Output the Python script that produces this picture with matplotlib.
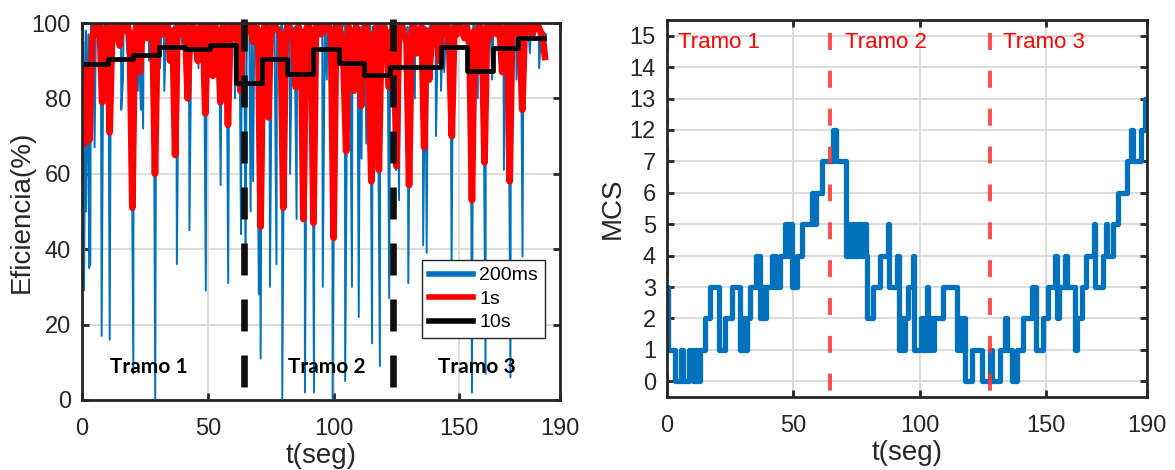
import numpy as np
import matplotlib
matplotlib.use("Agg")
import matplotlib.pyplot as plt
from matplotlib.lines import Line2D

plt.rcParams["font.family"] = ["Liberation Sans", "DejaVu Sans"]

# ---- left plot data: efficiency (%) ----
# 1 s averages
red_1s = [
    70, 68, 88, 69, 96, 99, 97, 100, 79, 97,
    99, 71, 98, 100, 97, 94, 100, 98, 100, 96,
    51, 97, 100, 87, 98, 100, 96, 99, 100, 60,
    98, 100, 97, 99, 100, 90, 98, 65, 99, 100,
    97, 99, 80, 98, 100, 96, 90, 99, 100, 76,
    98, 100, 86, 99, 97, 79, 100, 98, 73, 99,
    100, 96, 99, 82, 97, 100, 98, 99, 95, 100,
    97, 46, 98, 100, 75, 97, 100, 99, 98, 96,
    51, 97, 100, 98, 95, 83, 99, 97, 48, 98,
    100, 96, 47, 99, 100, 97, 99, 98, 100, 96,
    43, 98, 100, 97, 88, 66, 99, 97, 82, 99,
    96, 78, 98, 100, 88, 58, 97, 99, 61, 98,
    100, 95, 83, 98, 97, 62, 99, 100, 97, 95,
    57, 98, 100, 92, 97, 99, 67, 98, 85, 97,
    100, 96, 90, 99, 97, 100, 93, 70, 99, 97,
    100, 98, 96, 99, 94, 53, 98, 87, 100, 97,
    63, 99, 96, 100, 98, 97, 99, 87, 98, 100,
    58, 99, 97, 100, 96, 77, 99, 98, 100, 97,
    99, 100, 98, 97, 91,
]

# 200 ms samples: upper band (one per second, at t = k + 0.5)
blue_top = [
    95, 98, 97, 100, 99, 97, 100, 98, 99, 100,
    97, 99, 100, 98, 96, 100, 99, 98, 100, 97,
    99, 100, 96, 98, 100, 99, 97, 100, 98, 99,
    100, 97, 99, 98, 100, 96, 99, 100, 98, 97,
    100, 99, 97, 100, 98, 99, 100, 96, 99, 98,
    100, 97, 99, 100, 98, 95, 99, 100, 97, 99,
    98, 100, 96, 99, 93, 97, 100, 98, 99, 100,
    97, 99, 98, 100, 96, 99, 100, 97, 98, 100,
    99, 97, 100, 98, 99, 96, 100, 98, 97, 99,
    100, 98, 99, 96, 100, 97, 99, 100, 98, 99,
    97, 100, 98, 99, 100, 96, 99, 98, 100, 97,
    99, 100, 98, 97, 100, 99, 96, 98, 100, 99,
    97, 98, 100, 96, 99, 94, 97, 100, 98, 99,
    100, 97, 99, 98, 100, 96, 99, 97, 100, 98,
    99, 100, 97, 98, 96, 100, 99, 97, 100, 98,
    99, 96, 100, 98, 97, 100, 99, 98, 100, 97,
    99, 100, 98, 97, 100, 99, 96, 98, 100, 99,
    97, 100, 98, 99, 100, 97, 99, 98, 100, 96,
    99, 100, 98, 92, 97,
]
# 200 ms samples: downward drops
spike_t = [0.8, 1.6, 2.8, 3.3, 5.0, 7.8, 11.0, 15.6, 16.3, 18.0,
           20.4, 22.2, 23.4, 24.3, 26.7, 29.1, 31.0, 32.7, 35.0, 37.7,
           40.0, 42.7, 44.6, 46.3, 49.2, 52.0, 55.1, 58.1, 60.8, 62.7,
           63.2, 65.0, 67.0, 68.0, 70.3, 71.0, 74.7, 77.3, 79.6, 82.7,
           85.3, 88.6, 92.2, 95.7, 97.3, 99.6, 102.0, 104.6, 107.3, 110.0,
           111.1, 113.0, 115.3, 118.4, 122.1, 124.8, 126.0, 129.7, 132.3, 135.6,
           137.0, 140.7, 142.7, 144.0, 146.9, 155.0, 157.3, 160.4, 163.0, 167.7,
           170.3, 172.7, 175.1, 178.0, 181.7]
spike_v = [29, 50, 35, 36, 67, 17, 16, 77, 85, 92,
           7, 82, 77, 72, 90, 0, 88, 82, 90, 36,
           93, 45, 95, 88, 29, 86, 57, 31, 80, 90,
           44, 34, 50, 58, 28, 11, 30, 36, 0, 60,
           48, 2, 2, 30, 85, 0, 90, 5, 30, 22,
           64, 68, 15, 9, 27, 61, 53, 31, 80, 41,
           39, 70, 82, 87, 35, 2, 80, 7, 85, 61,
           6, 85, 38, 92, 88]

# 10 s averages (steps)
black_10s = [89, 90.5, 91.5, 93.7, 93, 94.2, 84.2, 90.4, 86.4, 93,
             89.4, 86.2, 88.3, 88.3, 93.7, 87.3, 93.4, 96]

# ---- right plot data: MCS index (change times and values) ----
mcs_t = [0, 0.5, 3.2, 5.4, 6.2, 8.8, 10.2, 11.4, 12.0, 13.2,
         15.0, 17.0, 20.7, 23.0, 25.6, 29.0, 30.2, 30.6, 31.5, 33.0,
         35.2, 36.2, 36.5, 36.8, 38.0, 38.4, 39.2, 41.4, 42.4, 42.8,
         43.2, 44.7, 46.7, 48.0, 48.3, 49.3, 51.3, 53.3, 57.3, 58.4,
         59.0, 61.2, 65.8, 66.9, 70.8, 71.7, 72.5, 73.4, 74.4, 75.7,
         76.7, 77.6, 78.6, 79.0, 81.7, 84.3, 87.3, 87.9, 91.0, 91.7,
         93.0, 93.4, 94.2, 95.2, 97.2, 97.9, 100.6, 101.2, 102.8, 103.4,
         104.2, 105.0, 105.5, 109.4, 114.6, 115.6, 116.2, 117.3, 117.9, 120.6,
         124.5, 127.8, 128.8, 131.8, 133.8, 134.4, 136.6, 138.4, 141.0, 144.3,
         145.0, 145.4, 145.9, 149.0, 150.9, 153.6, 154.5, 155.2, 157.6, 158.5,
         161.6, 162.4, 164.1, 166.0, 169.0, 169.5, 172.6, 173.6, 174.3, 176.6,
         178.6, 181.9, 183.8, 184.4, 187.8, 189.3, 190.0]
mcs_v = [3, 1, 0, 1, 0, 1, 0, 1, 0, 1,
         2, 3, 1, 2, 3, 1, 2, 1, 2, 3,
         4, 3, 4, 2, 3, 2, 3, 4, 3, 4,
         3, 4, 5, 4, 5, 3, 4, 5, 6, 5,
         6, 7, 12, 7, 4, 5, 4, 5, 4, 5,
         4, 5, 4, 2, 3, 4, 5, 3, 4, 1,
         2, 1, 2, 3, 4, 1, 2, 1, 3, 1,
         2, 1, 2, 3, 1, 2, 1, 2, 0, 1,
         0, 1, 0, 1, 2, 1, 0, 1, 2, 3,
         2, 3, 1, 2, 3, 4, 2, 3, 4, 3,
         1, 2, 3, 4, 5, 3, 4, 5, 4, 5,
         6, 7, 12, 7, 12, 13, 13]

mcs_ticks = [0, 1, 2, 3, 4, 5, 6, 7, 12, 13, 14, 15]
x_ticks = [0, 50, 100, 150, 190]

# section boundaries
bounds_left = [64.4, 123.8]
bounds_right = [0, 64.7, 128.0]

# ---- build series ----
t_1s = np.arange(len(red_1s))
t_top = np.arange(len(blue_top)) + 0.5
blue_t = np.concatenate([t_top, spike_t])
blue_v = np.concatenate([blue_top, spike_v])
order = np.argsort(blue_t, kind="stable")
blue_t, blue_v = blue_t[order], blue_v[order]
t_10s = np.arange(len(black_10s) + 1) * 10.2
black_steps = black_10s + [black_10s[-1]]

BLUE = "#0072BD"
TXT = "#262626"

fig = plt.figure(figsize=(11.75, 4.7), dpi=100)
ax1 = fig.add_axes([0.0698, 0.149, 0.4068, 0.802])
ax2 = fig.add_axes([0.5677, 0.1553, 0.4085, 0.8021])


def style_axes(ax):
    ax.grid(True, color="#d9d9d9", lw=1.3)
    ax.set_axisbelow(True)
    for s in ax.spines.values():
        s.set_linewidth(2.0)
        s.set_color(TXT)
        s.set_zorder(10)
    ax.tick_params(direction="in", length=5, width=2, colors=TXT,
                   labelsize=17, top=True, right=True)
    ax.tick_params(axis="x", pad=13)
    ax.tick_params(axis="y", pad=8)
    ax.set_xlim(0, 190)
    ax.set_xticks(x_ticks)
    ax.set_xlabel("t(seg)", fontsize=20, color=TXT, labelpad=2)


# ---- left: efficiency ----
ax1.plot(blue_t, blue_v, color=BLUE, lw=1.4, zorder=2)
ax1.plot(t_1s, red_1s, color="#FF0000", lw=4.8, zorder=3)
ax1.plot(t_10s, black_steps, color="black", lw=3.4, drawstyle="steps-post",
         zorder=4)
for b in bounds_left:
    ax1.plot([b, b], [101, 3.5], color="#111111", lw=4.8, dashes=(4.8, 3.6),
             zorder=5, clip_on=False)
style_axes(ax1)
ax1.set_ylim(0, 100)
ax1.set_yticks(range(0, 101, 20))
ax1.set_ylabel("Eficiencia(%)", fontsize=20, color=TXT, labelpad=-2)

for x, lab in [(26.7, "Tramo 1"), (97.3, "Tramo 2"), (157.0, "Tramo 3")]:
    ax1.text(x, 8.8, lab, ha="center", va="center", fontsize=15,
             fontweight="bold", family=["Lato", "DejaVu Sans"], color="black",
             zorder=6)

handles = [Line2D([], [], color=BLUE, lw=4),
           Line2D([], [], color="#FF0000", lw=4),
           Line2D([], [], color="black", lw=4)]
leg = ax1.legend(handles, ["200ms", "1s", "10s"], loc="lower left",
                 bbox_to_anchor=(0.711, 0.164), fontsize=14, frameon=True,
                 fancybox=False, framealpha=1, edgecolor=TXT,
                 handlelength=2.3, handletextpad=0.3, borderpad=0.35,
                 labelspacing=0.3, borderaxespad=0)
leg.get_frame().set_linewidth(1.0)
leg.set_zorder(8)


# ---- right: MCS with a compressed 7..12 range ----
def fwd(v):
    v = np.asarray(v, dtype=float)
    return np.where(v <= 7, v, np.where(v < 12, 7 + (v - 7) / 5, v - 4))


def inv(p):
    p = np.asarray(p, dtype=float)
    return np.where(p <= 7, p, np.where(p < 8, 7 + (p - 7) * 5, p + 4))


ax2.set_yscale("function", functions=(fwd, inv))
ax2.plot(mcs_t, mcs_v, color=BLUE, lw=3.8, drawstyle="steps-post", zorder=3)
for b in bounds_right:
    ax2.plot([b, b], [15.1, -0.5], color="#FF3333", alpha=0.85, lw=2.9,
             dashes=(4.2, 5.2), zorder=4)
style_axes(ax2)
ax2.set_ylim(-0.5, 15.5)
ax2.set_yticks(mcs_ticks)
ax2.set_yticklabels([str(v) for v in mcs_ticks])
ax2.minorticks_off()
ax2.set_ylabel("MCS", fontsize=20, color=TXT, labelpad=3)

for x, lab in [(4.5, "Tramo 1"), (70.5, "Tramo 2"), (133.0, "Tramo 3")]:
    ax2.text(x, 14.8, lab, ha="left", va="center", fontsize=16,
             color="#FF0000", zorder=6)

fig.savefig("out.png", dpi=100)
